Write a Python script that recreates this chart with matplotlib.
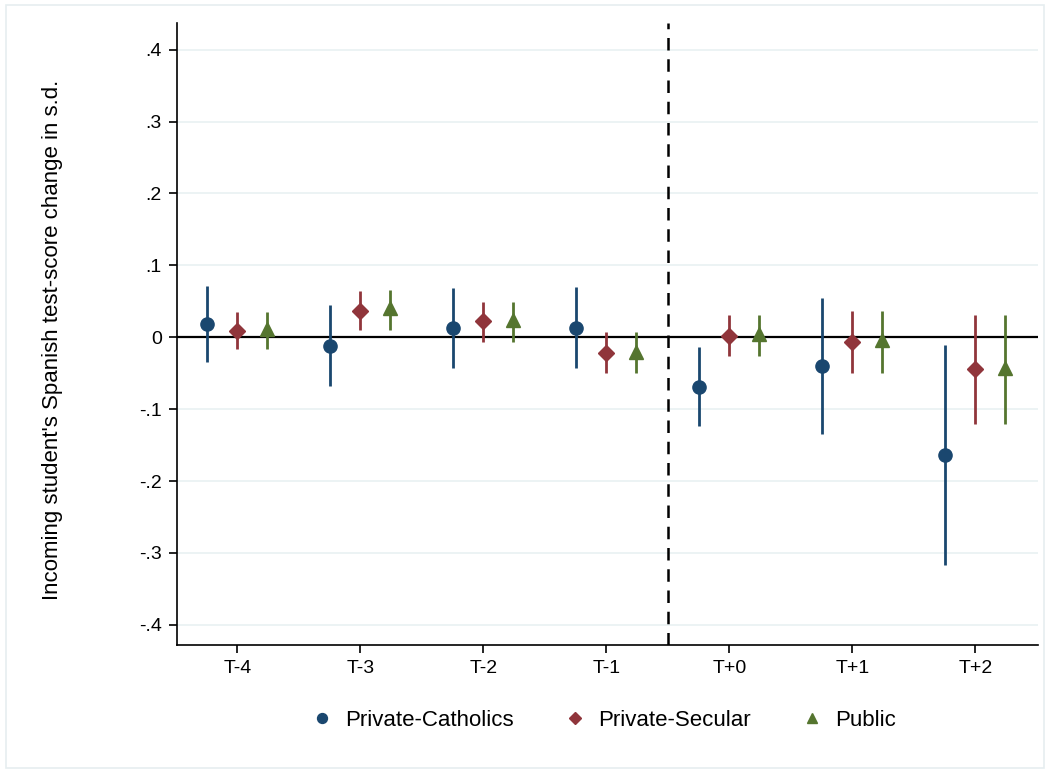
import matplotlib.pyplot as plt
import numpy as np
from matplotlib.patches import Rectangle

plt.rcParams['font.family'] = ['Liberation Sans', 'DejaVu Sans']

periods = ['T-4', 'T-3', 'T-2', 'T-1', 'T+0', 'T+1', 'T+2']

catholic = [0.018, -0.012, 0.013, 0.013, -0.069, -0.040, -0.164]
catholic_hi = [0.071, 0.045, 0.068, 0.070, -0.014, 0.055, -0.011]
catholic_lo = [-0.035, -0.068, -0.043, -0.043, -0.124, -0.135, -0.317]

secular = [0.009, 0.037, 0.022, -0.022, 0.002, -0.006, -0.044]
secular_hi = [0.035, 0.065, 0.049, 0.007, 0.031, 0.037, 0.031]
secular_lo = [-0.017, 0.010, -0.006, -0.050, -0.026, -0.050, -0.121]

public = [0.011, 0.040, 0.024, -0.020, 0.004, -0.004, -0.043]
public_hi = [0.035, 0.066, 0.049, 0.007, 0.031, 0.037, 0.031]
public_lo = [-0.017, 0.010, -0.006, -0.050, -0.026, -0.050, -0.121]

series = [
    ('Private-Catholics', catholic, catholic_lo, catholic_hi, '#1a476f', 'o', 9.5, -0.245),
    ('Private-Secular', secular, secular_lo, secular_hi, '#90353b', 'D', 8.5, 0.0),
    ('Public', public, public_lo, public_hi, '#55752f', '^', 10, 0.245),
]

fig = plt.figure(figsize=(10.5, 7.73), dpi=100)
fig.patches.append(Rectangle((0.006, 0.006), 0.988, 0.988, transform=fig.transFigure,
                             fill=False, edgecolor='#e6eef0', lw=1.2))
ax = fig.add_axes([0.1686, 0.1656, 0.82, 0.8046])

x = np.arange(len(periods))
for name, est, lo, hi, col, mk, ms, off in series:
    est = np.array(est)
    ax.vlines(x + off, lo, hi, color=col, lw=2, zorder=3)
    ax.plot(x + off, est, ls='none', marker=mk, ms=ms, color=col, mec=col,
            label=name, zorder=4)

ax.axhline(0, color='black', lw=1.6, zorder=2)
ax.axvline(3.5, color='black', lw=1.8, ls=(0, (5, 3.5)), zorder=2)

yt = [-0.4, -0.3, -0.2, -0.1, 0, 0.1, 0.2, 0.3, 0.4]
ylabels = ['-.4', '-.3', '-.2', '-.1', '0', '.1', '.2', '.3', '.4']
ax.set_yticks(yt)
ax.set_yticklabels(ylabels)
ax.set_ylim(-0.428, 0.437)
ax.set_xticks(x)
ax.set_xticklabels(periods)
ax.set_xlim(-0.49, 6.51)

ax.grid(axis='y', color='#eaf2f3', lw=1.3, zorder=0)
ax.set_axisbelow(True)
for s in ['top', 'right']:
    ax.spines[s].set_visible(False)
for s in ['left', 'bottom']:
    ax.spines[s].set_linewidth(1.2)
ax.tick_params(axis='both', length=6, width=1.2, labelsize=14, pad=5)

ax.set_ylabel("Incoming student's Spanish test-score change in s.d.", fontsize=16)
ax.yaxis.set_label_coords(-0.145, 0.49)
ax.yaxis.label.set_va('center')

leg = ax.legend(loc='upper center', bbox_to_anchor=(0.492, -0.072), ncol=3, frameon=False,
                fontsize=16, handletextpad=0.3, columnspacing=2.0, handlelength=1.5,
                markerscale=0.75)

plt.savefig('out.png', dpi=100)
